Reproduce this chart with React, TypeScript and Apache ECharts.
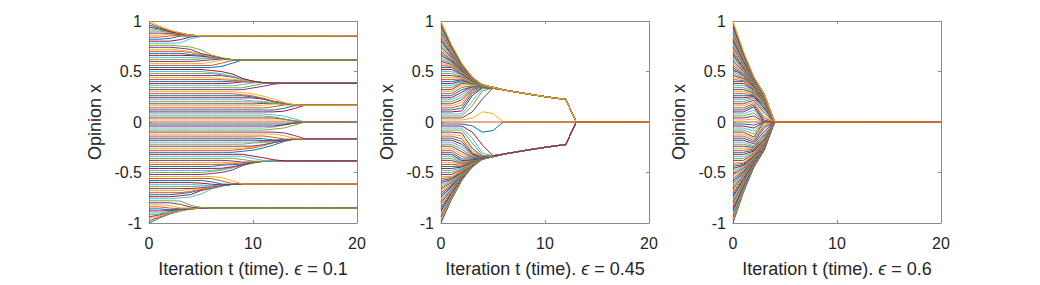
import React, { useEffect, useRef } from "react";
import * as echarts from "echarts";

// Panel labels (epsilon shown in the axis title)
const epsilonLabels = ["0.1", "0.45", "0.6"];
// Confidence bounds used to run each panel's opinion dynamics
const confidenceBounds = [0.1, 0.46, 0.6];
// 101 agents, initial opinions evenly spaced from -1 to 1 (step 0.02)
const agentCount = 101;
const opinionMin = -1;
const opinionMax = 1;
// iterations t = 0 .. 20
const iterationCount = 20;
const xTickValues = [0, 10, 20];
const yTickValues = [-1, -0.5, 0, 0.5, 1];
const lineColors = ["#0072BD", "#D95319", "#EDB120", "#7E2F8E", "#77AC30", "#4DBEEE", "#A2142F"];

// Hegselmann–Krause bounded-confidence update (the process the picture shows)
function runModel(eps: number): number[][] {
  const x0: number[] = [];
  for (let i = 0; i < agentCount; i++) {
    x0.push(opinionMin + ((opinionMax - opinionMin) * i) / (agentCount - 1));
  }
  const hist: number[][] = [x0];
  let cur = x0;
  for (let t = 1; t <= iterationCount; t++) {
    const next = cur.map((xi) => {
      let s = 0;
      let c = 0;
      for (const xj of cur) {
        if (Math.abs(xj - xi) <= eps + 1e-12) {
          s += xj;
          c++;
        }
      }
      return s / c;
    });
    hist.push(next);
    cur = next;
  }
  return hist;
}

const FONT = '"Liberation Sans", Arial, Helvetica, sans-serif';
const GRID_LEFTS = [149, 441, 733];
const GRID_W = 208;
const GRID_TOP = 21;
const GRID_H = 202;
const BOX = "#8a8a8a";
const TEXT = "#262626";

export default function App() {
  const ref = useRef<HTMLDivElement>(null);
  useEffect(() => {
    if (!ref.current) return;
    const chart = echarts.init(ref.current, null, { renderer: "svg" });
    const grids: any[] = [];
    const xAxes: any[] = [];
    const yAxes: any[] = [];
    const series: any[] = [];
    const commonTick = { show: true, inside: true, length: 3, lineStyle: { color: BOX } };
    const xBase = {
      type: "value",
      min: xTickValues[0],
      max: xTickValues[xTickValues.length - 1],
      interval: xTickValues[1] - xTickValues[0],
      axisLine: { show: true, onZero: false, lineStyle: { color: BOX, width: 1 } },
      axisTick: commonTick,
      splitLine: { show: false },
    };
    const yBase = {
      type: "value",
      min: yTickValues[0],
      max: yTickValues[yTickValues.length - 1],
      interval: yTickValues[1] - yTickValues[0],
      axisLine: { show: true, onZero: false, lineStyle: { color: BOX, width: 1 } },
      axisTick: commonTick,
      splitLine: { show: false },
    };
    confidenceBounds.forEach((eps, p) => {
      grids.push({ left: GRID_LEFTS[p], top: GRID_TOP, width: GRID_W, height: GRID_H, show: false });
      xAxes.push({
        ...xBase,
        gridIndex: p,
        position: "bottom",
        axisLabel: { color: TEXT, fontSize: 16, fontFamily: FONT, margin: 12 },
        name: "Iteration t (time). {e|ϵ} = " + epsilonLabels[p],
        nameLocation: "middle",
        nameGap: 37,
        nameTextStyle: {
          color: TEXT,
          fontSize: 18,
          fontFamily: FONT,
          rich: { e: { fontStyle: "italic", fontSize: 18, fontFamily: FONT, color: TEXT } },
        },
      });
      yAxes.push({
        ...yBase,
        gridIndex: p,
        position: "left",
        axisLabel: { color: TEXT, fontSize: 16, fontFamily: FONT, margin: 7 },
        name: "Opinion x",
        nameLocation: "middle",
        nameGap: 45,
        nameRotate: 90,
        nameTextStyle: { color: TEXT, fontSize: 18, fontFamily: FONT },
      });
    });
    confidenceBounds.forEach((eps, p) => {
      xAxes.push({ ...xBase, gridIndex: p, position: "top", axisLabel: { show: false } });
      yAxes.push({ ...yBase, gridIndex: p, position: "right", axisLabel: { show: false } });
      const hist = runModel(eps);
      const centre = (agentCount - 1) / 2;
      const order: number[] = [];
      for (let i = 0; i < agentCount; i++) if (i !== centre) order.push(i);
      order.push(centre);
      for (const i of order) {
        const data: number[][] = [];
        for (let t = 0; t <= iterationCount; t++) data.push([t, hist[t][i]]);
        series.push({
          type: "line",
          xAxisIndex: p,
          yAxisIndex: p,
          data,
          showSymbol: false,
          symbol: "none",
          silent: true,
          lineStyle: { width: 1, color: lineColors[i % lineColors.length] },
          z: 2,
        });
      }
    });
    chart.setOption({
      animation: false,
      backgroundColor: "#ffffff",
      grid: grids,
      xAxis: xAxes,
      yAxis: yAxes,
      series,
    });
    return () => chart.dispose();
  }, []);
  return (
    <div
      ref={ref}
      style={{ position: "fixed", left: 0, top: 0, width: 1040, height: 285, background: "#fff" }}
    />
  );
}
